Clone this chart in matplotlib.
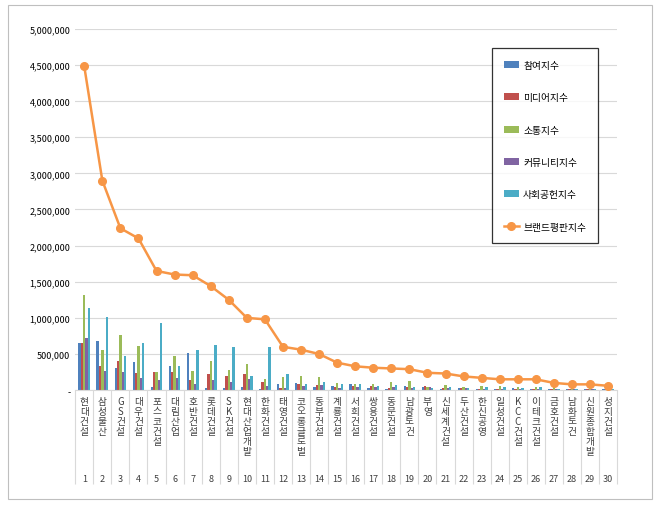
import matplotlib
matplotlib.use("Agg")
import matplotlib.pyplot as plt
import numpy as np

plt.rcParams["font.family"] = ["Noto Sans CJK KR", "Noto Sans CJK JP", "Noto Sans CJK SC", "DejaVu Sans"]

companies = ["현대건설", "삼성물산", "GS건설", "대우건설", "포스코건설", "대림산업", "호반건설",
             "롯데건설", "SK건설", "현대산업개발", "한화건설", "태영건설", "코오롱글로벌", "동부건설",
             "계룡건설", "서희건설", "쌍용건설", "동문건설", "남광토건", "부영", "신세계건설",
             "두산건설", "한신공영", "일성건설", "KCC건설", "이테크건설", "금호건설", "남화토건",
             "신원종합개발", "성지건설"]

participation = [650000, 685000, 300000, 385000, 40000, 340000, 515000, 25000, 30000, 40000,
                 15000, 80000, 95000, 40000, 60000, 90000, 30000, 20000, 60000, 40000,
                 20000, 30000, 15000, 20000, 25000, 15000, 20000, 15000, 10000, 10000]
media = [650000, 330000, 400000, 235000, 255000, 255000, 140000, 230000, 195000, 220000,
         110000, 30000, 90000, 70000, 50000, 60000, 60000, 30000, 40000, 60000,
         30000, 30000, 20000, 20000, 20000, 15000, 20000, 15000, 10000, 10000]
communication = [1310000, 560000, 770000, 615000, 255000, 470000, 265000, 400000, 280000, 355000,
                 150000, 175000, 190000, 180000, 95000, 90000, 90000, 110000, 130000, 40000,
                 70000, 50000, 60000, 60000, 50000, 50000, 40000, 30000, 30000, 20000]
community = [720000, 270000, 255000, 170000, 145000, 170000, 90000, 140000, 115000, 150000,
             60000, 30000, 60000, 70000, 30000, 40000, 50000, 40000, 30000, 50000,
             30000, 30000, 20000, 20000, 20000, 20000, 15000, 10000, 10000, 10000]
social = [1130000, 1010000, 470000, 655000, 925000, 330000, 560000, 630000, 600000, 195000,
          600000, 230000, 80000, 110000, 90000, 80000, 60000, 70000, 40000, 30000,
          40000, 30000, 40000, 50000, 30000, 40000, 20000, 20000, 15000, 15000]
brand = [4480000, 2900000, 2240000, 2100000, 1650000, 1600000, 1590000, 1440000, 1250000, 1000000,
         980000, 600000, 560000, 500000, 380000, 330000, 310000, 300000, 290000, 240000,
         230000, 190000, 170000, 150000, 150000, 150000, 100000, 80000, 80000, 60000]

series = [("참여지수", participation, "#4F81BD"),
          ("미디어지수", media, "#C0504D"),
          ("소통지수", communication, "#9BBB59"),
          ("커뮤니티지수", community, "#8064A2"),
          ("사회공헌지수", social, "#4BACC6")]

fig = plt.figure(figsize=(6.6, 5.06), dpi=100)
fig.patches.append(plt.Rectangle((0.012, 0.012), 0.976, 0.976, transform=fig.transFigure,
                                 fill=False, edgecolor="#BFBFBF", linewidth=0.8))
ax = fig.add_axes([0.114, 0.227, 0.821, 0.714])

x = np.arange(len(companies))
w = 0.13
for i, (name, vals, col) in enumerate(series):
    ax.bar(x + (i - 2) * w, vals, width=w, color=col, label=name, zorder=2)
ax.plot(x, brand, color="#F79646", linewidth=1.8, marker="o", markersize=5.5,
        label="브랜드평판지수", zorder=3)

ax.set_xlim(-0.5, len(companies) - 0.5)
ax.set_ylim(0, 5000000)
ax.set_yticks(np.arange(0, 5000001, 500000))
ax.set_yticklabels(["-"] + [f"{v:,}" for v in range(500000, 5000001, 500000)], fontsize=6.5)
ax.yaxis.grid(True, color="#D9D9D9", linewidth=0.8, zorder=0)
ax.tick_params(axis="y", length=0)

ax.set_xticks(x)
ax.set_xticklabels(["\n".join(c) for c in companies],
                   fontsize=7, linespacing=1.0, va="top", color="#404040")
ax.tick_params(axis="x", length=0, pad=4)
ax.set_xticks(np.arange(-0.5, len(companies)), minor=True)
ax.tick_params(axis="x", which="minor", length=68, color="#D9D9D9", width=0.8)
for xi in x:
    ax.text(xi, -0.245, str(xi + 1), transform=ax.get_xaxis_transform(),
            ha="center", va="center", fontsize=6.5, color="#404040")

for s in ["top", "right", "left"]:
    ax.spines[s].set_visible(False)
ax.spines["bottom"].set_color("#D9D9D9")

handles, labels = ax.get_legend_handles_labels()
order = [1, 2, 3, 4, 5, 0]
leg = ax.legend([handles[i] for i in order], [labels[i] for i in order],
                loc="upper left", bbox_to_anchor=(0.76, 0.96), fontsize=7, frameon=True,
                fancybox=False, edgecolor="black", labelspacing=2.3, borderpad=1.2,
                handlelength=1.6, handletextpad=0.4)
leg.get_frame().set_linewidth(0.9)

fig.savefig("out.png", dpi=100)
